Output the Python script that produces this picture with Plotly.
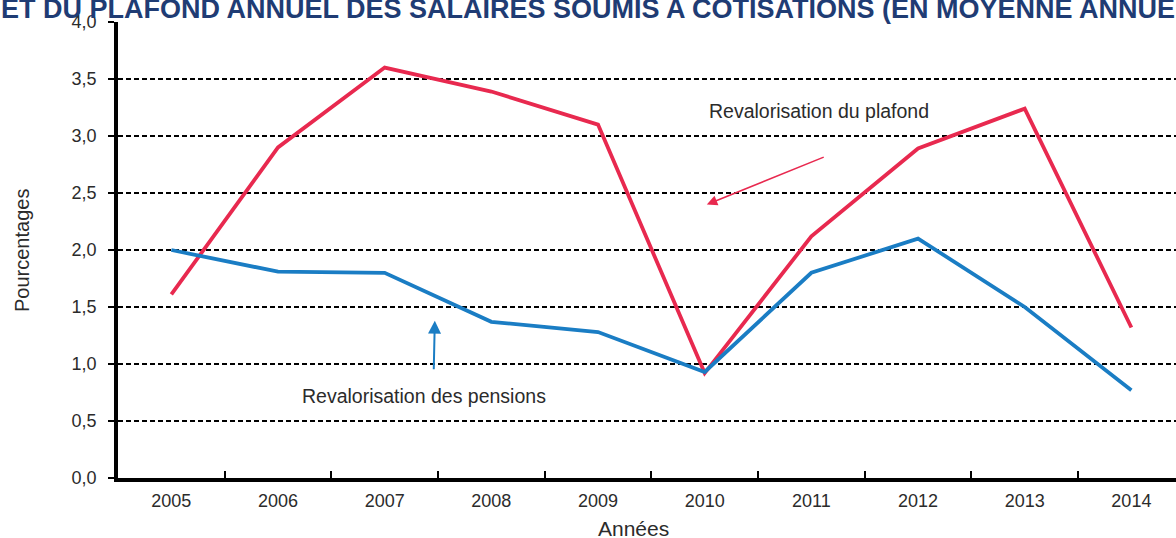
import plotly.graph_objects as go

years = ["2005", "2006", "2007", "2008", "2009", "2010", "2011", "2012", "2013", "2014"]
plafond = [1.61, 2.90, 3.60, 3.39, 3.10, 0.92, 2.12, 2.89, 3.24, 1.32]
pensions = [2.00, 1.81, 1.80, 1.37, 1.28, 0.93, 1.80, 2.10, 1.50, 0.77]
y_ticks = [0, 0.5, 1.0, 1.5, 2.0, 2.5, 3.0, 3.5, 4.0]

title_text = "ET DU PLAFOND ANNUEL DES SALAIRES SOUMIS A COTISATIONS (EN MOYENNE ANNUELLE)"

RED = "#E8294F"
BLUE = "#1A7DC4"
FONT = "Liberation Sans, Arial, sans-serif"
TXT = "#2B2B2B"

W, H = 1176, 538
ML, MT, MB, MR = 118, 22, 60, 0
pw = W - ML - MR
ph = H - MT - MB
step = 106.67

fig = go.Figure()
fig.add_trace(go.Scatter(x=years, y=plafond, mode="lines",
                         line=dict(color=RED, width=3.8), showlegend=False))
fig.add_trace(go.Scatter(x=years, y=pensions, mode="lines",
                         line=dict(color=BLUE, width=3.8), showlegend=False))

fig.update_layout(
    width=W, height=H,
    margin=dict(l=ML, r=MR, t=MT, b=MB, pad=0, autoexpand=False),
    paper_bgcolor="white", plot_bgcolor="white",
    font=dict(family=FONT, color=TXT, size=18),
    separators=",.",
    xaxis=dict(
        type="category", range=[-0.5, -0.5 + pw / step], automargin=False,
        tickson="boundaries", ticks="inside", ticklen=7, tickwidth=2, tickcolor="black",
        showline=True, linecolor="black", linewidth=3.5, showgrid=False,
        tickfont=dict(size=18, color=TXT), ticklabelstandoff=4,
    ),
    yaxis=dict(
        range=[0, 4.0], tickvals=y_ticks, tickformat=".1f", automargin=False,
        ticks="outside", ticklen=6, tickwidth=1.5, tickcolor="black",
        showline=True, linecolor="black", linewidth=3.5,
        showgrid=True, gridcolor="black", gridwidth=1.5, griddash="5px,3px",
        zeroline=False, ticklabelstandoff=8,
        tickfont=dict(size=18, color=TXT),
    ),
)

# Axis titles
fig.add_annotation(text="Années", xref="paper", yref="paper",
                   x=(633 - ML) / pw, y=-(528 - (H - MB)) / ph,
                   xanchor="center", yanchor="middle", showarrow=False,
                   font=dict(size=21, color=TXT))
fig.add_annotation(text="Pourcentages", xref="paper", yref="paper",
                   x=-(ML - 22) / pw, y=((H - MB) - 251) / ph, textangle=-90,
                   xanchor="center", yanchor="middle", showarrow=False,
                   font=dict(size=20, color=TXT))

# Cropped title
fig.add_annotation(text="<b>" + title_text + "</b>", xref="paper", yref="paper",
                   x=-(ML + 1) / pw, y=1 + (MT - 9) / ph, xanchor="left", yanchor="middle",
                   showarrow=False, font=dict(size=27, color="#1F3C74", family=FONT))

fig.add_annotation(text="Revalorisation du plafond", x=6.07, y=3.22, xref="x", yref="y",
                   showarrow=False, font=dict(size=19.5, color=TXT))
fig.add_annotation(text="Revalorisation des pensions", x=2.37, y=0.72, xref="x", yref="y",
                   showarrow=False, font=dict(size=19.5, color=TXT))

fig.add_annotation(x=5.02, y=2.40, ax=6.13, ay=2.82, xref="x", yref="y", axref="x", ayref="y",
                   text="", showarrow=True, arrowhead=2, arrowsize=1.3, arrowwidth=1.6,
                   arrowcolor=RED)
fig.add_annotation(x=2.47, y=1.38, ax=2.46, ay=0.94, xref="x", yref="y", axref="x", ayref="y",
                   text="", showarrow=True, arrowhead=2, arrowsize=1.3, arrowwidth=2,
                   arrowcolor=BLUE)

fig.write_html("out.html", config={"displayModeBar": False},
               post_script="document.body.style.margin='0';document.body.style.overflow='hidden';")
